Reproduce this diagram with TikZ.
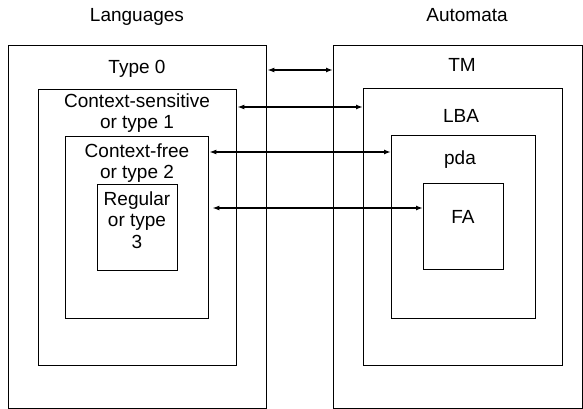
\documentclass[tikz,border=0pt]{standalone}
\usepackage{fontspec}
\setmainfont{Liberation Sans}
\usetikzlibrary{arrows.meta}

\begin{document}
\begin{tikzpicture}[x=1pt,y=-1pt,>={Latex[length=7pt,width=5pt]},
  box/.style={draw,line width=1.4pt,anchor=north west,inner sep=0pt},
  lbl/.style={font=\fontsize{19}{21.5}\selectfont,align=center,inner sep=0pt},
  link/.style={<->,line width=1.4pt}]
  \useasboundingbox (0,0) rectangle (583,409);
  % --- Sprachen (links) ---
  \node[lbl,anchor=base] (langs) at (137,22) {Languages};
  \node[box,minimum width=258pt,minimum height=363pt] (type0) at (8,45) {};
  \node[box,minimum width=198pt,minimum height=276pt] (cs) at (38,89) {};
  \node[box,minimum width=143pt,minimum height=182pt] (cf) at (65,136) {};
  \node[box,minimum width=80pt,minimum height=86pt] (reg) at (97,184) {};
  \node[lbl,anchor=base] (t0txt) at (137,74) {Type 0};
  \node[lbl] (cstxt) at (137,113) {Context-sensitive\\or type 1};
  \node[lbl] (cftxt) at (137,163) {Context-free\\or type 2};
  \node[lbl] (regtxt) at (137,220) {Regular\\or type\\3};
  % --- Automaten (rechts) ---
  \node[lbl,anchor=base] (autom) at (467,22) {Automata};
  \node[box,minimum width=249pt,minimum height=363pt] (tm) at (333,45) {};
  \node[box,minimum width=199pt,minimum height=277pt] (lba) at (363,88) {};
  \node[box,minimum width=144pt,minimum height=183pt] (pda) at (391,135) {};
  \node[box,minimum width=80pt,minimum height=86pt] (fa) at (423,183) {};
  \node[lbl,anchor=base] (tmtxt) at (462,72) {TM};
  \node[lbl,anchor=base] (lbatxt) at (461,123) {LBA};
  \node[lbl,anchor=base] (pdatxt) at (460,164) {pda};
  \node[lbl,anchor=base] (fatxt) at (463,223) {FA};
  % --- Zuordnung ---
  \draw[link] (type0.east |- 0,70) -- (tm.west |- 0,70);
  \draw[link] (cs.east |- 0,107) -- (lba.west |- 0,107);
  \draw[link] (cf.east |- 0,152) -- (pda.west |- 0,152);
  \draw[link] ([xshift=3pt]cf.east |- 0,208) -- (fa.west |- 0,208);
\end{tikzpicture}
\end{document}
